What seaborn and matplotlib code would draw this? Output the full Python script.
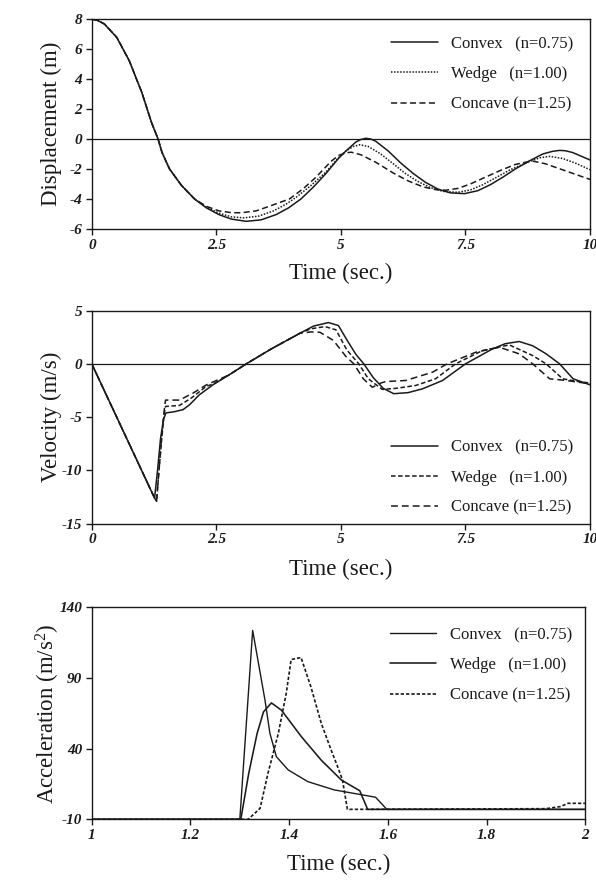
import numpy as np
import pandas as pd
import matplotlib
matplotlib.use("Agg")
import matplotlib.pyplot as plt
import seaborn as sns

# ---------------- data ----------------
legend_labels = ["Convex   (n=0.75)", "Wedge   (n=1.00)", "Concave (n=1.25)"]

# Displacement (m)
disp_common_t = [0, 0.1, 0.25, 0.5, 0.75, 1.0, 1.2, 1.33, 1.41, 1.56, 1.8, 2.06]
disp_common_y = [8.0, 7.95, 7.7, 6.8, 5.25, 3.15, 1.1, 0.0, -0.9, -2.0, -3.1, -4.0]

disp_convex_t = [2.3, 2.55, 2.8, 3.1, 3.4, 3.7, 3.95, 4.2, 4.45, 4.7, 4.95, 5.1, 5.3, 5.4, 5.5,
                 5.6, 5.7, 5.95, 6.2, 6.45, 6.7, 6.95, 7.2, 7.48, 7.75, 8.0, 8.25, 8.5, 8.79,
                 9.05, 9.25, 9.39, 9.5, 9.65, 10.0]
disp_convex_y = [-4.6, -5.05, -5.35, -5.5, -5.4, -5.05, -4.6, -4.0, -3.2, -2.3, -1.3, -0.8, -0.2,
                 -0.03, 0.05, 0.0, -0.15, -0.8, -1.6, -2.3, -2.9, -3.35, -3.6, -3.65, -3.45,
                 -3.05, -2.55, -2.0, -1.45, -1.0, -0.82, -0.76, -0.78, -0.9, -1.4]

disp_wedge_t = [2.3, 2.55, 2.8, 3.05, 3.35, 3.65, 3.9, 4.1, 4.4, 4.7, 4.95, 5.1, 5.25, 5.38, 5.55,
                5.8, 6.05, 6.28, 6.55, 6.8, 7.05, 7.35, 7.6, 7.85, 8.1, 8.4, 8.79, 9.0, 9.19,
                9.45, 9.7, 10.0]
disp_wedge_y = [-4.55, -4.95, -5.2, -5.27, -5.15, -4.8, -4.35, -3.9, -3.1, -2.2, -1.25, -0.8, -0.5,
                -0.38, -0.5, -1.0, -1.65, -2.27, -2.85, -3.25, -3.5, -3.56, -3.4, -3.05, -2.6,
                -2.05, -1.49, -1.25, -1.16, -1.3, -1.6, -2.05]

disp_concave_t = [2.3, 2.55, 2.8, 3.0, 3.3, 3.6, 3.97, 4.25, 4.5, 4.8, 4.95, 5.1, 5.21, 5.4, 5.7,
                  6.05, 6.35, 6.65, 6.9, 7.11, 7.35, 7.6, 7.9, 8.2, 8.5, 8.79, 8.86, 9.1, 9.4,
                  9.7, 10.0]
disp_concave_y = [-4.5, -4.8, -4.92, -4.93, -4.8, -4.45, -4.0, -3.3, -2.55, -1.5, -1.1, -0.92,
                  -0.88, -1.05, -1.55, -2.27, -2.8, -3.2, -3.38, -3.42, -3.3, -3.0, -2.55, -2.1,
                  -1.7, -1.49, -1.48, -1.65, -2.0, -2.35, -2.7]

# Velocity (m/s)
vel_convex_t = [0, 1.26, 1.32, 1.38, 1.44, 1.49, 1.65, 1.83, 1.96, 2.16, 2.43, 2.75, 3.1, 3.6,
                4.18, 4.45, 4.75, 4.95, 5.12, 5.3, 5.46, 5.65, 5.85, 6.06, 6.35, 6.64, 7.04,
                7.5, 8.04, 8.3, 8.58, 8.85, 9.12, 9.39, 9.66, 10.0]
vel_convex_y = [0, -12.6, -10.0, -7.0, -5.2, -4.6, -4.5, -4.3, -3.85, -2.9, -1.97, -1.05, 0.0,
                1.4, 2.88, 3.55, 3.88, 3.6, 2.25, 0.9, 0.0, -1.3, -2.3, -2.8, -2.7, -2.34,
                -1.56, 0.0, 1.4, 1.9, 2.1, 1.7, 0.94, 0.0, -1.4, -1.97]

vel_wedge_t = [0, 1.26, 1.30, 1.34, 1.40, 1.45, 1.48, 1.76, 2.0, 2.3, 2.43, 2.75, 3.1, 3.6, 4.18,
               4.4, 4.68, 4.9, 5.12, 5.36, 5.55, 5.83, 6.1, 6.5, 6.9, 7.3, 7.84, 8.38, 8.85,
               9.12, 9.45, 9.75, 10.0]
vel_wedge_y = [0, -12.6, -12.9, -10.5, -7.2, -4.8, -4.0, -3.9, -3.2, -2.1, -1.9, -1.05, 0.0, 1.4,
               2.88, 3.3, 3.5, 3.2, 1.3, 0.0, -1.4, -2.4, -2.3, -2.03, -1.4, 0.0, 1.25, 1.78,
               0.78, 0.0, -1.4, -1.65, -1.8]

vel_concave_t = [0, 1.26, 1.30, 1.34, 1.40, 1.45, 1.48, 1.76, 2.03, 2.3, 2.75, 3.1, 3.6, 4.18,
                 4.4, 4.58, 4.85, 5.1, 5.26, 5.45, 5.63, 5.8, 5.9, 6.3, 6.84, 7.13, 7.71, 8.18,
                 8.58, 8.85, 9.19, 9.52, 10.0]
vel_concave_y = [0, -12.6, -12.9, -10.5, -7.0, -4.5, -3.4, -3.4, -2.75, -1.97, -1.05, 0.0, 1.4,
                 2.88, 3.0, 2.97, 2.2, 0.7, 0.0, -1.4, -2.2, -1.8, -1.66, -1.56, -0.78, 0.0,
                 1.1, 1.56, 0.94, 0.0, -1.4, -1.56, -1.87]

# Acceleration (m/s^2)
acc_convex_t = [1.0, 1.300, 1.326, 1.351, 1.361, 1.374, 1.398, 1.438, 1.491, 1.575, 1.598, 2.0]
acc_convex_y = [-10, -10, 123.6, 74.2, 50.7, 34.3, 24.9, 16.6, 10.8, 5.6, -3.0, -3.0]

acc_wedge_t = [1.0, 1.302, 1.318, 1.335, 1.348, 1.364, 1.3845, 1.425, 1.465, 1.506, 1.543,
               1.559, 2.0]
acc_wedge_y = [-10, -10, 22.4, 50.7, 66.0, 72.3, 67.1, 48.3, 31.8, 17.7, 10.2, -3.0, -3.0]

acc_concave_t = [1.0, 1.317, 1.341, 1.357, 1.378, 1.394, 1.404, 1.424, 1.444, 1.465, 1.485,
                 1.498, 1.508, 1.518, 1.92, 1.95, 1.965, 2.0]
acc_concave_y = [-10, -10, -2.3, 22.5, 50.7, 79.0, 103.0, 104.4, 83.7, 57.9, 39.0, 27.3, 17.9,
                 -3.0, -2.5, -1.0, 1.3, 1.3]

# ticks
disp_xticks = [0, 2.5, 5, 7.5, 10]
disp_xlabels = ["0", "2.5", "5", "7.5", "10"]
disp_yticks = [-6, -4, -2, 0, 2, 4, 6, 8]
vel_yticks = [-15, -10, -5, 0, 5]
acc_xticks = [1, 1.2, 1.4, 1.6, 1.8, 2]
acc_xlabels = ["1", "1.2", "1.4", "1.6", "1.8", "2"]
acc_yticks = [-10, 40, 90, 140]

# ---------------- style ----------------
sns.set_style("ticks")
plt.rcParams["font.family"] = ["Liberation Serif", "DejaVu Serif"]
plt.rcParams["mathtext.fontset"] = "custom"
plt.rcParams["mathtext.rm"] = "Liberation Serif"
plt.rcParams["mathtext.it"] = "Liberation Serif:italic"
plt.rcParams["axes.unicode_minus"] = False
plt.rcParams["axes.edgecolor"] = "#222222"
plt.rcParams["axes.linewidth"] = 1.0

fig = plt.figure(figsize=(5.96, 8.8), dpi=100)
fig.patch.set_facecolor("white")
L, W = 0.154, 0.836
ax1 = fig.add_axes([L, 0.740, W, 0.238])
ax2 = fig.add_axes([L, 0.405, W, 0.242])
ax3 = fig.add_axes([L, 0.069, W - 0.008, 0.241])

lw = 1.1
ink = "#1a1a1a"


def draw(ax, t, y, ls, label, width=lw):
    sns.lineplot(x=t, y=y, ax=ax, color=ink, linewidth=width, linestyle=ls,
                 label=label, estimator=None, sort=False)


# Displacement
draw(ax1, disp_common_t + disp_convex_t, disp_common_y + disp_convex_y, "-", legend_labels[0])
draw(ax1, disp_common_t + disp_wedge_t, disp_common_y + disp_wedge_y, (0, (1, 1)), legend_labels[1])
draw(ax1, disp_common_t + disp_concave_t, disp_common_y + disp_concave_y, (0, (4, 2.2)), legend_labels[2])
ax1.axhline(0, color=ink, linewidth=0.9)
ax1.set_xlim(0, 10)
ax1.set_ylim(-6, 8)
ax1.set_xticks(disp_xticks)
ax1.set_xticklabels(disp_xlabels)
ax1.set_yticks(disp_yticks)
ax1.set_ylabel("Displacement (m)")

# Velocity
draw(ax2, vel_convex_t, vel_convex_y, "-", legend_labels[0])
draw(ax2, vel_wedge_t, vel_wedge_y, (0, (3, 1.6)), legend_labels[1])
draw(ax2, vel_concave_t, vel_concave_y, (0, (4.5, 2.6)), legend_labels[2])
ax2.axhline(0, color=ink, linewidth=0.9)
ax2.set_xlim(0, 10)
ax2.set_ylim(-15, 5)
ax2.set_xticks(disp_xticks)
ax2.set_xticklabels(disp_xlabels)
ax2.set_yticks(vel_yticks)
ax2.set_ylabel("Velocity (m/s)")

# Acceleration
draw(ax3, acc_convex_t, acc_convex_y, "-", legend_labels[0], 1.0)
draw(ax3, acc_wedge_t, acc_wedge_y, "-", legend_labels[1], 1.15)
draw(ax3, acc_concave_t, acc_concave_y, (0, (2, 1.2)), legend_labels[2], 1.2)
ax3.set_xlim(1, 2)
ax3.set_ylim(-10, 140)
ax3.set_xticks(acc_xticks)
ax3.set_xticklabels(acc_xlabels)
ax3.set_yticks(acc_yticks)
ax3.set_ylabel("Acceleration (m/s$^2$)")

legend_pos = {
    ax1: dict(loc="upper right", bbox_to_anchor=(1.0, 1.0), borderaxespad=0.6),
    ax2: dict(loc="lower right", bbox_to_anchor=(1.0, -0.042), borderaxespad=0.6),
    ax3: dict(loc="upper right", bbox_to_anchor=(1.007, 0.985), borderaxespad=0.6),
}

for ax in (ax1, ax2, ax3):
    for s in ax.spines.values():
        s.set_visible(True)
        s.set_color(ink)
    ax.tick_params(axis="both", direction="out", length=4, width=1.0, colors=ink,
                   top=False, right=False, pad=3)
    for lab in ax.get_xticklabels() + ax.get_yticklabels():
        lab.set_fontstyle("italic")
        lab.set_fontweight("bold")
        lab.set_fontsize(11)
    ax.set_xlabel("Time (sec.)", fontsize=16.5, color=ink)
    ax.yaxis.label.set_fontsize(16.5)
    ax.yaxis.label.set_color(ink)
    ax.yaxis.set_label_coords(-0.06, 0.5)
    ax.xaxis.set_label_coords(0.5, -0.165)
    leg = ax.legend(frameon=False, fontsize=12, handlelength=2.8,
                    handletextpad=0.8, labelspacing=0.85, **legend_pos[ax])
    for txt in leg.get_texts():
        txt.set_color(ink)

fig.savefig("out.png", dpi=100, facecolor="white")
